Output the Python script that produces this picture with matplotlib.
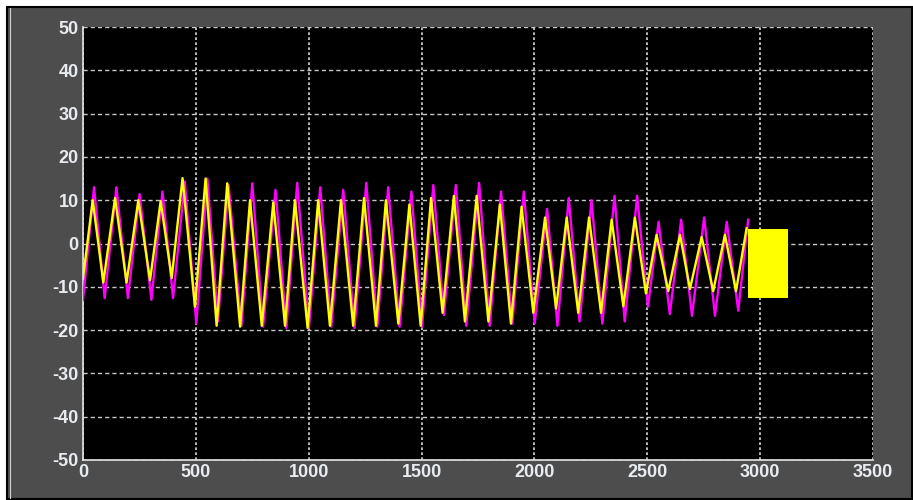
import matplotlib
matplotlib.use("Agg")
import matplotlib.pyplot as plt
from matplotlib.patches import Rectangle
from matplotlib.lines import Line2D

# yellow trace: turning points (time, value)
yel_t = [0, 43, 90, 142, 193, 245, 297, 344, 393, 441, 496, 543, 592, 639, 696,
         740, 792, 843, 895, 939, 995, 1042, 1094, 1143, 1197, 1245, 1298, 1342,
         1397, 1446, 1496, 1542, 1593, 1643, 1692, 1744, 1796, 1847, 1896, 1943,
         1995, 2047, 2096, 2143, 2194, 2242, 2295, 2342, 2394, 2445, 2494, 2541,
         2593, 2645, 2689, 2741, 2792, 2844, 2893, 2940]
yel_v = [-8, 10, -9, 10.5, -9, 10, -8.5, 9.8, -8, 15.1, -14.6, 15, -19, 13.9, -19.2,
         10, -19, 9.5, -19, 10, -19.5, 10, -19, 10, -19, 10.5, -19, 10,
         -18.5, 9, -19, 10.5, -16, 11, -18, 11, -18, 9, -18.5, 8.5,
         -16, 6, -15, 6, -16, 6, -16, 5.5, -14.5, 6, -11.5, 2,
         -11, 2, -10.5, 1.5, -11, 2, -11, 3.5]

# magenta trace: same signal, slightly later and noisier
mag_t = [0, 49, 96, 148, 199, 251, 303, 352, 399, 451, 502, 551, 598, 645, 702,
         750, 798, 853, 901, 949, 1001, 1051, 1100, 1153, 1203, 1255, 1304, 1352,
         1403, 1455, 1502, 1552, 1599, 1652, 1698, 1755, 1802, 1852, 1902, 1953,
         2001, 2056, 2102, 2152, 2200, 2253, 2301, 2355, 2400, 2455, 2503, 2550,
         2600, 2650, 2698, 2752, 2800, 2852, 2903, 2947]
mag_v = [-13, 13, -12.6, 13, -12.6, 11.4, -13, 12, -12.6, 14.3, -18.5, 15, -18, 13.5, -19,
         13.9, -19.2, 12.4, -19.5, 14, -19.5, 13, -19.2, 12.4, -19.5, 14, -19.2, 13,
         -19.2, 12, -19.2, 13.5, -16.5, 13.5, -19, 14, -19, 12, -18.5, 12,
         -18.5, 8, -19, 10.5, -18, 10, -18.5, 11, -18, 11, -14.6, 5,
         -16.3, 5.5, -16.7, 6, -16.7, 5, -15.5, 5.5]

# fast oscillation block at the end of the yellow trace
blk_t = [2947, 3125]
blk_top = [3.3, 3.3]
blk_bot = [-12.6, -12.6]

xticks = [0, 500, 1000, 1500, 2000, 2500, 3000, 3500]
yticks = [-50, -40, -30, -20, -10, 0, 10, 20, 30, 40, 50]

plt.rcParams['font.family'] = ['Liberation Sans', 'DejaVu Sans']
plt.rcParams['axes.unicode_minus'] = False

fig = plt.figure(figsize=(9.13, 5.0), dpi=100, facecolor='white')
# gray scope frame with black border
fig.patches.append(Rectangle((7 / 913, 1 / 500), 905 / 913, 492 / 500,
                             transform=fig.transFigure, facecolor='#4d4d4d',
                             edgecolor='black', linewidth=1.5, zorder=-10))
fig.lines.append(Line2D([10 / 913, 10 / 913], [2 / 500, 492 / 500],
                        transform=fig.transFigure, color='#d0d0d0', lw=0.8,
                        zorder=-9))

ax = fig.add_axes([83 / 913, 40 / 500, 790 / 913, 433 / 500])
ax.set_facecolor('black')

ax.plot(mag_t, mag_v, color='#ff00ff', lw=1.7, zorder=3)
ax.plot(yel_t, yel_v, color='#ffff00', lw=1.7, zorder=4)
ax.fill_between(blk_t, blk_bot, blk_top, color='#ffff00', lw=0, zorder=4)

ax.set_xlim(0, 3500)
ax.set_ylim(-50, 50)
ax.set_xticks(xticks)
ax.set_yticks(yticks)
ax.tick_params(length=0, colors='#e8ecf0', labelsize=13, pad=3)
for lab in ax.get_xticklabels() + ax.get_yticklabels():
    lab.set_fontweight('bold')

ax.yaxis.grid(True, color='#c8c8c8', lw=1.0, linestyle=(0, (3.0, 2.2)))
ax.xaxis.grid(True, color='#d8d8d8', lw=1.2, linestyle=(0, (1.6, 1.4)))
ax.set_axisbelow(True)

for side in ['top', 'right']:
    ax.spines[side].set_visible(False)
for side in ['left', 'bottom']:
    ax.spines[side].set_color('#e6e6e6')
    ax.spines[side].set_linewidth(1.2)

fig.savefig('out.png', dpi=100, facecolor=fig.get_facecolor())
